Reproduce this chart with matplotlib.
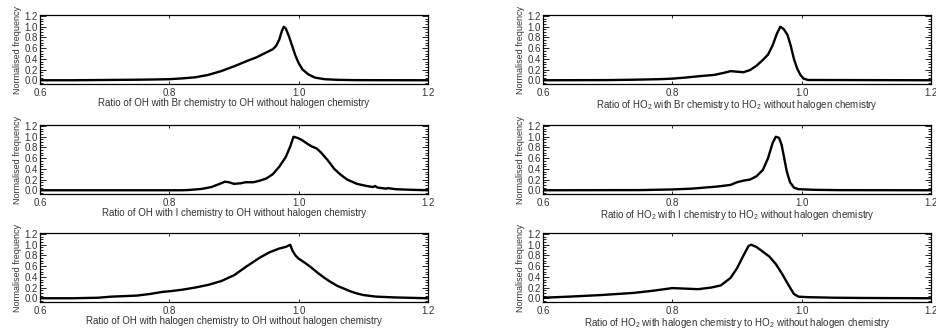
import matplotlib
matplotlib.use('Agg')
import matplotlib.pyplot as plt
from matplotlib.ticker import MultipleLocator

plt.rcParams['font.family'] = ['Liberation Sans', 'DejaVu Sans']
plt.rcParams['mathtext.fontset'] = 'custom'
plt.rcParams['mathtext.rm'] = 'Liberation Sans'
plt.rcParams['mathtext.it'] = 'Liberation Sans'

### Curves (ratio, normalised frequency)
oh_br_x = [0.60, 0.65, 0.70, 0.75, 0.78, 0.80, 0.82, 0.84, 0.86, 0.88,
           0.90, 0.92, 0.935, 0.95, 0.96, 0.965, 0.97, 0.974, 0.977, 0.98,
           0.985, 0.99, 0.995, 1.0, 1.006, 1.015, 1.025, 1.04, 1.06, 1.09, 1.20]
oh_br_y = [0.0, 0.0, 0.005, 0.01, 0.015, 0.02, 0.035, 0.055, 0.10, 0.17,
           0.26, 0.36, 0.43, 0.52, 0.58, 0.64, 0.76, 0.92, 1.0, 0.97,
           0.82, 0.64, 0.46, 0.32, 0.2, 0.11, 0.05, 0.02, 0.008, 0.002, 0.0]

oh_i_x = [0.60, 0.82, 0.83, 0.85, 0.865, 0.878, 0.886, 0.892, 0.90, 0.91,
          0.918, 0.93, 0.94, 0.95, 0.96, 0.97, 0.98, 0.987, 0.992, 0.998,
          1.005, 1.012, 1.02, 1.028, 1.035, 1.045, 1.055, 1.065, 1.075, 1.09,
          1.105, 1.115, 1.118, 1.122, 1.135, 1.138, 1.15, 1.17, 1.20]
oh_i_y = [0.0, 0.0, 0.005, 0.025, 0.06, 0.12, 0.16, 0.15, 0.12, 0.13,
          0.15, 0.15, 0.18, 0.22, 0.3, 0.44, 0.62, 0.82, 1.0, 0.98,
          0.94, 0.88, 0.82, 0.78, 0.7, 0.56, 0.4, 0.29, 0.2, 0.12,
          0.08, 0.06, 0.08, 0.05, 0.03, 0.04, 0.02, 0.01, 0.0]

oh_hal_x = [0.60, 0.65, 0.69, 0.71, 0.73, 0.75, 0.77, 0.79, 0.80, 0.82,
            0.84, 0.86, 0.88, 0.90, 0.92, 0.94, 0.955, 0.97, 0.98, 0.987,
            0.99, 0.995, 1.0, 1.01, 1.02, 1.03, 1.04, 1.05, 1.06, 1.07,
            1.08, 1.09, 1.10, 1.12, 1.15, 1.20]
oh_hal_y = [0.0, 0.0, 0.01, 0.03, 0.04, 0.05, 0.08, 0.12, 0.13, 0.16,
            0.2, 0.25, 0.32, 0.43, 0.6, 0.76, 0.86, 0.93, 0.96, 1.0,
            0.9, 0.8, 0.74, 0.66, 0.57, 0.47, 0.38, 0.3, 0.23, 0.18,
            0.13, 0.09, 0.06, 0.03, 0.015, 0.0]

ho2_br_x = [0.60, 0.70, 0.74, 0.78, 0.80, 0.82, 0.845, 0.865, 0.88, 0.89,
            0.90, 0.91, 0.92, 0.93, 0.94, 0.948, 0.955, 0.962, 0.967, 0.972,
            0.978, 0.983, 0.988, 0.993, 0.998, 1.003, 1.01, 1.20]
ho2_br_y = [0.0, 0.003, 0.01, 0.02, 0.03, 0.05, 0.08, 0.1, 0.14, 0.17,
            0.16, 0.15, 0.19, 0.27, 0.38, 0.48, 0.65, 0.88, 1.0, 0.96,
            0.85, 0.65, 0.4, 0.22, 0.1, 0.03, 0.005, 0.0]

ho2_i_x = [0.60, 0.75, 0.80, 0.83, 0.85, 0.87, 0.89, 0.90, 0.91, 0.92,
           0.93, 0.94, 0.948, 0.955, 0.96, 0.965, 0.969, 0.973, 0.977, 0.982,
           0.988, 0.995, 1.02, 1.06, 1.20]
ho2_i_y = [0.0, 0.003, 0.015, 0.03, 0.05, 0.07, 0.1, 0.15, 0.18, 0.2,
           0.26, 0.38, 0.6, 0.88, 1.0, 0.98, 0.85, 0.6, 0.35, 0.15,
           0.05, 0.02, 0.008, 0.002, 0.0]

ho2_hal_x = [0.60, 0.64, 0.69, 0.74, 0.77, 0.80, 0.82, 0.84, 0.86, 0.875,
             0.89, 0.90, 0.91, 0.918, 0.922, 0.93, 0.94, 0.95, 0.96, 0.97,
             0.98, 0.988, 0.995, 1.01, 1.05, 1.10, 1.20]
ho2_hal_y = [0.01, 0.03, 0.06, 0.1, 0.14, 0.19, 0.18, 0.17, 0.2, 0.24,
             0.38, 0.56, 0.8, 0.98, 1.0, 0.96, 0.87, 0.78, 0.64, 0.45,
             0.24, 0.08, 0.03, 0.02, 0.01, 0.005, 0.0]

xlabels = ['Ratio of OH with Br chemistry to OH without halogen chemistry',
           'Ratio of OH with I chemistry to OH without halogen chemistry',
           'Ratio of OH with halogen chemistry to OH without halogen chemistry',
           'Ratio of HO$_2$ with Br chemistry to HO$_2$ without halogen chemistry',
           'Ratio of HO$_2$ with I chemistry to HO$_2$ without halogen chemistry',
           'Ratio of HO$_2$ with halogen chemistry to HO$_2$ without halogen chemistry']
xticks = [0.6, 0.8, 1.0, 1.2]
yticks = [0.0, 0.2, 0.4, 0.6, 0.8, 1.0, 1.2]

curves = [(oh_br_x, oh_br_y), (oh_i_x, oh_i_y), (oh_hal_x, oh_hal_y),
          (ho2_br_x, ho2_br_y), (ho2_i_x, ho2_i_y), (ho2_hal_x, ho2_hal_y)]

W, H = 936., 333.
lefts = [40, 543]
tops = [15, 125, 233]
axw, axh = 388, 69

fig = plt.figure(figsize=(W / 100, H / 100), dpi=100)
textcol = '#333333'
for i, (xs, ys) in enumerate(curves):
    col, row = divmod(i, 3)
    ax = fig.add_axes([lefts[col] / W, 1 - (tops[row] + axh) / H, axw / W, axh / H])
    ax.plot(xs, ys, color='black', lw=1.7)
    ax.set_xlim(0.6, 1.2)
    ax.set_ylim(-0.07, 1.22)
    ax.set_xticks(xticks)
    ax.set_xticklabels(['{0:.1f}'.format(t) for t in xticks])
    ax.set_yticks(yticks)
    ax.set_yticklabels(['{0:.1f}'.format(t) for t in yticks])
    ax.yaxis.set_minor_locator(MultipleLocator(0.05))
    ax.tick_params(axis='both', which='both', direction='in', top=True, right=True,
                   labelsize=7, labelcolor=textcol, width=0.6)
    ax.tick_params(axis='y', which='major', length=4, pad=1.5)
    ax.tick_params(axis='y', which='minor', length=2)
    ax.tick_params(axis='x', which='major', length=2.5, pad=3)
    for sp in ax.spines.values():
        sp.set_linewidth(0.9)
    ax.set_xlabel(xlabels[i], fontsize=7, color=textcol, labelpad=0)
    ax.set_ylabel('Normalised frequency', fontsize=6.5, color=textcol, labelpad=2)

plt.savefig('out.png', dpi=100)
